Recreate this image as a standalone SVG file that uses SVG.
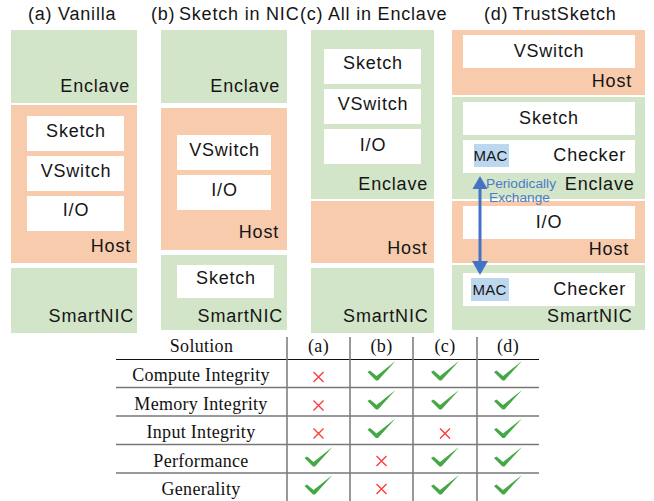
<svg xmlns="http://www.w3.org/2000/svg" width="654" height="501" viewBox="0 0 654 501">
<style>
.g{fill:#D3E5C8}
.o{fill:#F8CBAD}
.w{fill:#FFFFFF}
.mac{fill:#BDD7EE}
.t{font-family:"Liberation Sans",Arial,sans-serif;font-size:18px;letter-spacing:0.8px;fill:#151515}
.c{text-anchor:middle}
.e{text-anchor:end}
.m{font-family:"Liberation Sans",Arial,sans-serif;font-size:15px;letter-spacing:0.3px;fill:#151515}
.lbl{font-family:"Liberation Sans",Arial,sans-serif;font-size:13.7px;fill:#4A7CC7}
.s{font-family:"Liberation Serif","Times New Roman",serif;font-size:18px;letter-spacing:0.3px;fill:#111;text-anchor:middle}
.hl{stroke:#111;stroke-width:1}
.gl{stroke:#777;stroke-width:1.5}
.vl{stroke:#777;stroke-width:1.5}
</style>
<defs>
<g id="chk"><polygon points="0,11 2.5,9.5 9,15 28,0 10.5,19.5 8.5,19.5" fill="#45A845"/></g>
<g id="crs"><path d="M-5,-5 L5,5 M5,-5 L-5,5" stroke="#FF3B3B" stroke-width="1.4" fill="none"/></g>
</defs>

<!-- titles -->
<g id="titles">
<text class="t"><tspan x="28" y="20">(a)</tspan><tspan x="58" y="20">Vanilla</tspan></text>
<text class="t"><tspan x="151" y="20">(b)</tspan><tspan x="179" y="20">Sketch in NIC</tspan></text>
<text class="t"><tspan x="300" y="20">(c)</tspan><tspan x="328" y="20">All in Enclave</tspan></text>
<text class="t"><tspan x="484" y="20">(d)</tspan><tspan x="512.5" y="20">TrustSketch</tspan></text>
</g>

<!-- panel (a) -->
<g id="a-enclave"><rect class="g" x="11" y="30" width="126" height="73"/><text class="t e" x="130" y="92">Enclave</text></g>
<g id="a-host"><rect class="o" x="11" y="105" width="126" height="158"/><text class="t e" x="131" y="252">Host</text></g>
<g id="a-sketch"><rect class="w" x="27" y="116" width="97" height="35"/><text class="t c" x="76" y="137">Sketch</text></g>
<g id="a-vswitch"><rect class="w" x="27" y="156" width="97" height="35"/><text class="t c" x="76" y="177">VSwitch</text></g>
<g id="a-io"><rect class="w" x="27" y="196" width="97" height="35"/><text class="t c" x="76" y="216">I/O</text></g>
<g id="a-smartnic"><rect class="g" x="11" y="268" width="126" height="65"/><text class="t e" x="134" y="322">SmartNIC</text></g>

<!-- panel (b) -->
<g id="b-enclave"><rect class="g" x="161" y="30" width="126" height="73"/><text class="t e" x="280" y="92">Enclave</text></g>
<g id="b-host"><rect class="o" x="161" y="108" width="126" height="142"/><text class="t e" x="279" y="238">Host</text></g>
<g id="b-vswitch"><rect class="w" x="177" y="135" width="94" height="35"/><text class="t c" x="224.5" y="156">VSwitch</text></g>
<g id="b-io"><rect class="w" x="177" y="175" width="94" height="35"/><text class="t c" x="224.5" y="196">I/O</text></g>
<g id="b-smartnic"><rect class="g" x="161" y="255" width="126" height="75"/><text class="t e" x="283" y="322">SmartNIC</text></g>
<g id="b-sketch"><rect class="w" x="177" y="265" width="97" height="33"/><text class="t c" x="226" y="284">Sketch</text></g>

<!-- panel (c) -->
<g id="c-enclave"><rect class="g" x="311" y="30" width="123" height="169"/><text class="t e" x="428" y="190">Enclave</text></g>
<g id="c-sketch"><rect class="w" x="324" y="49" width="97" height="35"/><text class="t c" x="373" y="69">Sketch</text></g>
<g id="c-vswitch"><rect class="w" x="324" y="89" width="97" height="35"/><text class="t c" x="373" y="110">VSwitch</text></g>
<g id="c-io"><rect class="w" x="324" y="129" width="97" height="35"/><text class="t c" x="373" y="151">I/O</text></g>
<g id="c-host"><rect class="o" x="311" y="201" width="123" height="62"/><text class="t e" x="427.5" y="254">Host</text></g>
<g id="c-smartnic"><rect class="g" x="311" y="268" width="123" height="65"/><text class="t e" x="428.5" y="322">SmartNIC</text></g>

<!-- panel (d) -->
<g id="d-host1"><rect class="o" x="452" y="30" width="193" height="65"/><text class="t e" x="632" y="87">Host</text></g>
<g id="d-vswitch"><rect class="w" x="463" y="35" width="172" height="33"/><text class="t c" x="549" y="57">VSwitch</text></g>
<g id="d-enclave"><rect class="g" x="452" y="97" width="193" height="102"/><text class="t e" x="634.5" y="190">Enclave</text></g>
<g id="d-sketch"><rect class="w" x="463" y="102" width="172" height="33"/><text class="t c" x="549" y="124">Sketch</text></g>
<g id="d-checker1"><rect class="w" x="463" y="140" width="172" height="33"/><rect class="mac" x="474" y="144" width="35" height="23"/><text class="m" x="473.5" y="161">MAC</text><text class="t e" x="626" y="161">Checker</text></g>
<g id="d-host2"><rect class="o" x="452" y="201" width="193" height="62"/><text class="t e" x="629" y="255">Host</text></g>
<g id="d-io"><rect class="w" x="463" y="206" width="172" height="33"/><text class="t c" x="549" y="228">I/O</text></g>
<g id="d-smartnic"><rect class="g" x="452" y="265" width="193" height="65"/><text class="t e" x="632.5" y="322">SmartNIC</text></g>
<g id="d-checker2"><rect class="w" x="463" y="273" width="172" height="33"/><rect class="mac" x="471" y="278" width="38" height="23"/><text class="m" x="472.5" y="295">MAC</text><text class="t e" x="626" y="295">Checker</text></g>

<!-- connectors -->
<g id="connectors">
<line x1="480" y1="188" x2="480" y2="262" stroke="#4472C4" stroke-width="3"/>
<polygon points="480,176 472.5,189 487.5,189" fill="#4472C4"/>
<polygon points="480,275 472,261 488,261" fill="#4472C4"/>
<text class="lbl" x="486" y="188">Periodically</text>
<text class="lbl" x="489" y="202">Exchange</text>
</g>

<!-- table -->
<g id="table">
<line class="hl" x1="116" y1="359.5" x2="539" y2="359.5"/>
<line class="gl" x1="116" y1="387.5" x2="539" y2="387.5"/>
<line class="gl" x1="116" y1="416" x2="539" y2="416"/>
<line class="gl" x1="116" y1="444.5" x2="539" y2="444.5"/>
<line class="gl" x1="116" y1="473" x2="539" y2="473"/>
<line class="vl" x1="287" y1="337" x2="287" y2="501"/>
<line class="vl" x1="350" y1="337" x2="350" y2="501"/>
<line class="vl" x1="413" y1="337" x2="413" y2="501"/>
<line class="vl" x1="477" y1="337" x2="477" y2="501"/>
<text class="s" x="201.5" y="352">Solution</text>
<text class="s" x="318.5" y="352">(a)</text>
<text class="s" x="381.5" y="352">(b)</text>
<text class="s" x="445" y="352">(c)</text>
<text class="s" x="508" y="352">(d)</text>
<text class="s" x="201" y="381">Compute Integrity</text>
<text class="s" x="201" y="410">Memory Integrity</text>
<text class="s" x="201" y="438">Input Integrity</text>
<text class="s" x="201" y="467">Performance</text>
<text class="s" x="201" y="495">Generality</text>
<!-- row 1 -->
<use href="#crs" x="318.5" y="377"/>
<use href="#chk" x="367.5" y="361"/>
<use href="#chk" x="431" y="361"/>
<use href="#chk" x="494" y="361"/>
<!-- row 2 -->
<use href="#crs" x="318.5" y="405.5"/>
<use href="#chk" x="367.5" y="390"/>
<use href="#chk" x="431" y="390"/>
<use href="#chk" x="494" y="390"/>
<!-- row 3 -->
<use href="#crs" x="318.5" y="433.5"/>
<use href="#chk" x="367.5" y="418.5"/>
<use href="#crs" x="445" y="433.5"/>
<use href="#chk" x="494" y="418.5"/>
<!-- row 4 -->
<use href="#chk" x="304.5" y="447"/>
<use href="#crs" x="381.5" y="461"/>
<use href="#chk" x="431" y="447"/>
<use href="#chk" x="494" y="447"/>
<!-- row 5 -->
<use href="#chk" x="304.5" y="475"/>
<use href="#crs" x="381.5" y="489"/>
<use href="#chk" x="431" y="475"/>
<use href="#chk" x="494" y="475"/>
</g>
</svg>
